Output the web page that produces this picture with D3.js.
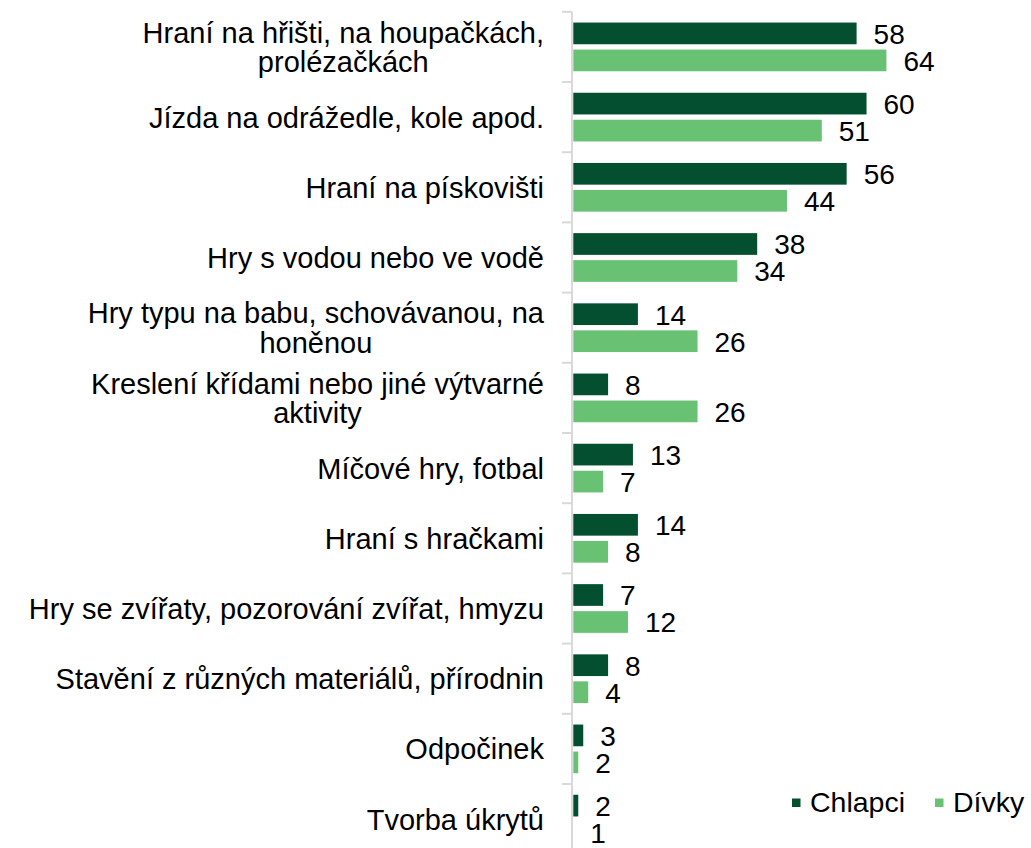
<!DOCTYPE html>
<html>
<head>
<meta charset="utf-8">
<script src="https://cdn.jsdelivr.net/npm/d3@7"></script>
<style>
  html, body { margin: 0; padding: 0; background: #ffffff; }
  svg { display: block; }
  text { font-family: "Liberation Sans", Arial, sans-serif; fill: #000; }
</style>
</head>
<body>
<svg id="chart" width="1031" height="848"></svg>
<script>
const categories = [
  "Hraní na hřišti, na houpačkách,\nprolézačkách",
  "Jízda na odrážedle, kole apod.",
  "Hraní na pískovišti",
  "Hry s vodou nebo ve vodě",
  "Hry typu na babu, schovávanou, na\nhoněnou",
  "Kreslení křídami nebo jiné výtvarné\naktivity",
  "Míčové hry, fotbal",
  "Hraní s hračkami",
  "Hry se zvířaty, pozorování zvířat, hmyzu",
  "Stavění z různých materiálů, přírodnin",
  "Odpočinek",
  "Tvorba úkrytů"
];
const seriesNames = ["Chlapci", "Dívky"];
const chlapci = [58, 60, 56, 38, 14, 8, 13, 14, 7, 8, 3, 2];
const divky   = [64, 51, 44, 34, 26, 26, 7, 8, 12, 4, 2, 1];
const seriesValues = [chlapci, divky];
const colors = ["#034f2f", "#69c274"];

const svg = d3.select("#chart");

const plotTop = 11.8, bandH = 70.2;
const y0 = d3.scaleBand()
  .domain(d3.range(categories.length))
  .range([plotTop, plotTop + bandH * categories.length])
  .paddingInner(0).paddingOuter(0);

const groupH = 48.7;
const y1 = d3.scaleBand()
  .domain(seriesNames)
  .range([(bandH - groupH) / 2, (bandH - groupH) / 2 + groupH])
  .paddingInner(0.1963).paddingOuter(0);

const x = d3.scaleLinear().domain([1, 65]).range([573.3, 573.3 + 64 * 4.97]);

// axis (vertical category axis with ticks at boundaries)
const axisX = 572;
const axisG = svg.append("g");
axisG.append("line")
  .attr("x1", axisX).attr("x2", axisX)
  .attr("y1", y0.range()[0]).attr("y2", y0.range()[1])
  .attr("stroke", "#d9d9d9").attr("stroke-width", 2);
const boundaries = d3.range(categories.length + 1).map(i => plotTop + i * y0.step());
axisG.selectAll("line.tick").data(boundaries).join("line")
  .attr("class", "tick")
  .attr("x1", 562).attr("x2", axisX)
  .attr("y1", d => d).attr("y2", d => d)
  .attr("stroke", "#d9d9d9").attr("stroke-width", 2);

// bars
const groups = svg.append("g").selectAll("g").data(categories).join("g")
  .attr("transform", (d, i) => `translate(0,${y0(i)})`);

seriesNames.forEach((s, si) => {
  groups.append("rect")
    .attr("x", x(1))
    .attr("y", y1(s))
    .attr("height", y1.bandwidth())
    .attr("width", (d, i) => Math.max(0, x(seriesValues[si][i]) - x(1)))
    .attr("fill", colors[si]);
  groups.append("text")
    .attr("x", (d, i) => x(seriesValues[si][i]) + 17)
    .attr("y", y1(s) + y1.bandwidth() / 2 + 10.5)
    .attr("font-size", 28)
    .text((d, i) => seriesValues[si][i]);
});

// category labels (right aligned block, lines centered to each other)
const labelRight = 544, lineH = 29.5, fs = 29;
groups.each(function(d, i) {
  const g = d3.select(this);
  const lines = d.split("\n");
  const cy = y0.bandwidth() / 2;
  const texts = lines.map((ln, li) => g.append("text")
    .attr("font-size", fs)
    .attr("y", cy - (lines.length - 1) * lineH / 2 + li * lineH + 10.5)
    .text(ln));
  const maxW = d3.max(texts, t => t.node().getComputedTextLength());
  texts.forEach(t => t.attr("x", labelRight - maxW / 2).attr("text-anchor", "middle"));
});

// legend
const legend = svg.append("g");
const legendItems = [
  { name: seriesNames[0], color: colors[0], x: 792 },
  { name: seriesNames[1], color: colors[1], x: 935 }
];
legendItems.forEach(it => {
  legend.append("rect").attr("x", it.x).attr("y", 798.5).attr("width", 8.5).attr("height", 8.5).attr("fill", it.color);
  legend.append("text").attr("x", it.x + 18).attr("y", 812).attr("font-size", 28.5).text(it.name);
});
</script>
</body>
</html>
